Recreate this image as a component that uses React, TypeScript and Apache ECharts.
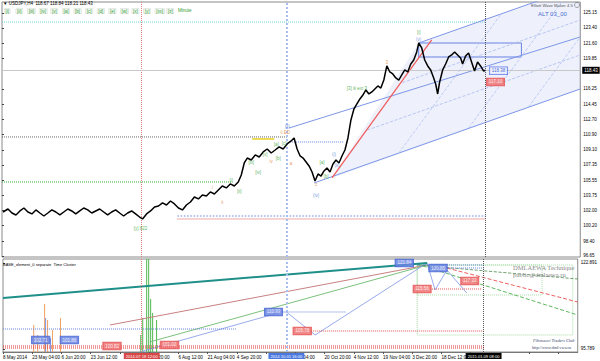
import React, { useEffect, useRef } from "react";
import * as echarts from "echarts";

const FONT = "'Liberation Sans', Arial, sans-serif";

// ---------- main panel: USDJPY H4 price path (bar position, price) ----------
const priceBars = [
  1, 6, 10, 14, 18, 22, 26, 30, 34, 38,
  42, 46, 50, 54, 58, 62, 66, 70, 74, 78,
  82, 86, 90, 94, 98, 102, 106, 110, 114, 118,
  122, 126, 130, 134, 138, 141, 145, 149, 153, 157,
  161, 165, 169, 173, 177, 181, 185, 189, 193, 197,
  201, 205, 209, 213, 217, 221, 225, 229, 233, 237,
  240, 243, 246, 250, 254, 258, 262, 266, 270, 274,
  278, 282, 286, 290, 293, 296, 299, 302, 305, 308,
  311, 314, 317, 320, 323, 326, 329, 332, 335, 338,
  341, 344, 347, 350, 353, 356, 359, 362, 365, 368,
  371, 374, 377, 380, 383, 386, 389, 392, 395, 398,
  401, 404, 407, 410, 413, 416, 418, 421, 424, 427,
  430, 433, 435, 437, 439, 442, 445, 448, 451, 454,
  457, 460, 462, 465, 468, 471, 474, 477, 480, 483,
  485,
];
const priceValues = [
  101.81, 102.16, 101.69, 101.46, 101.93, 102.28, 101.81, 101.58, 102.05, 101.69,
  101.34, 101.69, 102.05, 101.81, 101.46, 101.81, 102.16, 101.93, 101.58, 101.93,
  102.28, 102.05, 101.69, 101.93, 102.16, 101.81, 101.46, 101.81, 102.05, 101.69,
  101.34, 101.69, 101.93, 101.58, 101.22, 100.99, 101.58, 101.93, 102.40, 102.51,
  102.87, 102.63, 103.10, 102.75, 102.28, 102.05, 102.63, 102.98, 103.57, 103.34,
  103.80, 103.69, 104.16, 103.92, 104.39, 104.86, 104.63, 105.10, 104.86, 105.33,
  106.15, 107.56, 108.14, 107.91, 108.50, 108.26, 108.85, 109.20, 108.73, 109.08,
  109.44, 109.20, 109.79, 110.14, 110.49, 109.20, 108.38, 108.14, 107.68, 107.21,
  106.50, 105.45, 106.27, 106.03, 106.62, 106.97, 106.50, 107.44, 107.91, 107.56,
  108.38, 109.08, 110.49, 112.60, 113.89, 114.48, 115.07, 115.53, 116.12, 115.65,
  115.89, 116.24, 116.59, 116.35, 117.29, 118.94, 118.23, 118.00, 117.53, 117.29,
  117.88, 118.47, 118.23, 119.17, 119.64, 120.58, 121.63, 121.05, 119.64, 118.94,
  118.47, 117.53, 116.82, 115.65, 117.06, 118.47, 119.17, 119.99, 120.23, 120.58,
  120.23, 119.87, 119.17, 120.11, 120.46, 119.40, 118.35, 119.40, 118.94, 118.35,
  118.43,
];
const lastPrice = 118.43;

const priceTicks = [96.65, 98.4, 100.2, 102.0, 103.75, 105.55, 107.35, 109.1, 110.9, 112.7, 114.45, 116.25, 119.85, 121.6, 123.4, 125.15];
const subTicks = [95.789, 122.891];

const timeStep = 29.5;
const timeLabels = [
  "8 May 2014", "23 May 04:00", "6 Jun 20:00", "23 Jun 12:00", "", "20:00",
  "6 Aug 12:00", "21 Aug 04:00", "4 Sep 20:00", "", "04:00", "20 Oct 20:00",
  "4 Nov 12:00", "19 Nov 04:00", "3 Dec 20:00", "18 Dec 12:00",
];

const markerBars = [140, 286, 485];
const markerDates = ["2014.07.18 12:00", "2014.10.01 16:00", "2015.01.09 08:00"];

// channel & trend lines (bar, price)
const channelLower = [[313, 105.21], [580, 116.24]];
const channelUpper = [[418, 121.63], [580, 128.32]];
const channelInner1 = [[366.5, 111.42], [580, 120.23]];
const channelInner2 = [[401.6, 116.98], [580, 124.33]];
const midTrend = [[288, 111.66], [580, 122.34]];
const redTrend = [[331, 105.8], [431, 121.99]];
const crossLines = [
  [[398, 108.73], [501, 125.08]],
  [[468, 111.66], [571, 127.97]],
  [[528, 114.13], [580, 122.34]],
];
const boxZone = [[418, 121.63], [521, 119.99]];

// horizontal levels in main panel
const levelPrices = [124.09, 110.61, 110.02, 105.33, 101.34, 100.99, 110.37];
const levelStart = [0, 0, 289, 0, 176, 176, 251];
const levelEnd = [485, 286, 343, 231, 485, 485, 273];

// wave labels
const greenWaveText = ["[y] 822", "[i]", "[ii]", "[iii]", "[iv]", "[v]", "[a]", "[b]", "[c]", "[a]", "[b]", "[i]", "[3] iii ext 3"];
const greenWaveBars = [139, 230, 238, 250, 257, 264, 275, 277, 283, 321, 325, 418, 356];
const greenWavePrices = [99.93, 105.45, 104.27, 107.56, 106.5, 108.61, 109.67, 108.03, 109.9, 107.56, 105.92, 122.81, 116.35];
const blueWaveText = ["(ii)", "(iv)", "(i)", "(ii)", "(v)"];
const blueWaveBars = [286, 315, 333, 336, 418];
const blueWavePrices = [111.78, 103.8, 108.5, 107.32, 122.1];
const orangeWaveText = ["i", "ii", "iv", "ii ED", "a", "c", "3"];
const orangeWaveBars = [211, 221, 270, 284, 290, 315, 386];
const orangeWavePrices = [104.63, 102.98, 107.68, 111.08, 107.44, 104.98, 119.4];

const priceBoxText = ["118.38", "117.10"];
const priceBoxBars = [498, 495];
const priceBoxPrices = [118.38, 117.06];

// ---------- sub panel: Time Cluster ----------
const tealLine = [[0, 111.86], [428, 122.89]];
const redFan = [[108, 103.35], [428, 122.26]];
const greenFan = [[148, 97.99], [428, 122.26]];
const blueZigzag = [[138, 94.84], [281, 107.45], [286, 107.45], [315, 100.2], [428, 122.89], [436, 114.38], [448, 120.68], [468, 113.43]];
const greenProj = [[418, 122.57], [580, 106.5]];
const redProj = [[448, 121.31], [580, 110.6]];
const darkProj = [[418, 122.26], [580, 117.85]];
const subRects = [[[418, 122.26], [544, 112.8]], [[418, 122.26], [575, 100.2]]];

const subLevelValues = [107.45, 101.46, 102.09, 121.31, 122.26, 114.7, 96.73, 96.1];
const subLevelStart = [286, 311, 0, 448, 418, 431, 0, 0];
const subLevelEnd = [346, 485, 235, 485, 485, 483, 485, 485];

const subBlueBoxText = ["110.93", "121.84", "120.85", "102.71", "101.86"];
const subBlueBoxBars = [273, 405, 439, 38, 67];
const subBlueBoxValues = [107.45, 122.89, 121.31, 98.62, 98.62];
const subRedBoxText = ["105.78", "115.56", "117.22", "100.82", "101.02"];
const subRedBoxBars = [302, 423, 471, 110, 168];
const subRedBoxValues = [101.46, 114.7, 117.22, 96.73, 97.05];

const orangeSpikeBars = [31, 35, 42, 45, 50, 58];
const orangeSpikeValues = [103.35, 100.2, 109.97, 104.93, 101.77, 105.56];
const blueSpikeBars = [43, 48];
const blueSpikeValues = [105.56, 99.25];
const greenSpikeBars = [139, 141, 145, 147, 149, 151, 155];
const greenSpikeValues = [100.2, 105.56, 124.15, 124.15, 111.54, 107.13, 104.93];

const waveButtons = ["[i]", "[ii]", "[iii]", "[iv]", "[v]", "[a]", "[b]", "[c]", "[d]", "[e]", "[w]", "[x]", "[y]", "[xx]", "[z]"];

function seg(data: any, color: string, type: any, width: number, grid: number, z = 3) {
  return {
    type: "line", xAxisIndex: grid, yAxisIndex: grid, data, symbol: "none", showSymbol: false,
    silent: true, z, lineStyle: { color, type, width }, clip: true,
  };
}

function labelSeries(bars: number[], vals: number[], texts: string[], grid: number, label: any, z = 6) {
  return {
    type: "scatter", xAxisIndex: grid, yAxisIndex: grid, symbolSize: 0.1, silent: true, z,
    itemStyle: { color: "rgba(0,0,0,0)" },
    data: bars.map((b, i) => ({ value: [b, vals[i]], name: texts[i] })),
    label: { show: true, position: "inside", formatter: "{b}", fontFamily: FONT, fontSize: 4.5, ...label },
  };
}

function buildOption() {
  const series: any[] = [];

  // channel fill: bounded by red trend (left), lower and upper channel lines
  const poly = [redTrend[0], channelLower[1], channelUpper[1], channelUpper[0]];
  series.push({
    type: "custom", xAxisIndex: 0, yAxisIndex: 0, clip: true, silent: true, z: 1,
    data: [[300, 110]],
    renderItem: (_p: any, api: any) => ({
      type: "polygon",
      shape: { points: poly.map((p) => api.coord(p)) },
      style: { fill: "rgba(120,150,230,0.13)" },
    }),
  });

  series.push(seg(channelLower, "#7d96e6", "solid", 1, 0));
  series.push(seg(channelUpper, "#7d96e6", "solid", 1, 0));
  series.push(seg(channelInner1, "#a9bbef", "dashed", 0.8, 0));
  series.push(seg(channelInner2, "#a9bbef", "dashed", 0.8, 0));
  series.push(seg(midTrend, "#7d96e6", "solid", 1, 0));
  crossLines.forEach((l) => series.push(seg(l, "#b3c3f0", "dashed", 0.8, 0)));
  series.push(seg(redTrend, "#ee5a5a", "solid", 1.2, 0, 4));

  const levelColors = ["#6fcfcf", "#666666", "#6a86e0", "#3aa83a", "#9fb3ef", "#d85050", "#e8d020"];
  const levelTypes = ["dotted", "dotted", "dotted", "dotted", "dotted", "dotted", "solid"];
  const levelWidths = [1, 1, 1, 1, 1.6, 1, 1.5];
  levelPrices.forEach((p, i) =>
    series.push(seg([[levelStart[i], p], [levelEnd[i], p]], levelColors[i], levelTypes[i], levelWidths[i], 0))
  );

  // price line
  series.push({
    type: "line", xAxisIndex: 0, yAxisIndex: 0, symbol: "none", showSymbol: false, z: 5, silent: true,
    data: priceBars.map((b, i) => [b, priceValues[i]]),
    lineStyle: { color: "#000", width: 1.5 },
    markLine: {
      silent: true, symbol: ["none", "none"], animation: false,
      label: { show: false },
      data: [
        { xAxis: markerBars[0], lineStyle: { color: "#e58080", type: "dotted", width: 1 } },
        { xAxis: markerBars[1], lineStyle: { color: "#a8bdf0", type: "dotted", width: 2 } },
        { xAxis: markerBars[2], lineStyle: { color: "#555", type: "dotted", width: 1 } },
        {
          yAxis: lastPrice, lineStyle: { color: "#c8c8c8", type: "solid", width: 1 },
          label: {
            show: true, position: "end", formatter: lastPrice.toFixed(2), backgroundColor: "#000",
            color: "#fff", fontSize: 4.5, fontFamily: FONT, padding: [1, 2], distance: 2,
          },
        },
      ],
    },
    markArea: {
      silent: true,
      itemStyle: { color: "rgba(255,255,255,0)", borderColor: "#6680e0", borderWidth: 1 },
      data: [[{ coord: boxZone[0] }, { coord: boxZone[1] }]],
    },
  });

  series.push(labelSeries(greenWaveBars, greenWavePrices, greenWaveText, 0, { color: "#2f9e2f" }));
  series.push(labelSeries(blueWaveBars, blueWavePrices, blueWaveText, 0, { color: "#4a6fd0" }));
  series.push(labelSeries(orangeWaveBars, orangeWavePrices, orangeWaveText, 0, { color: "#e07a30" }));
  series.push(labelSeries([priceBoxBars[0]], [priceBoxPrices[0]], [priceBoxText[0]], 0, {
    color: "#2545c8", backgroundColor: "#eef2ff", borderColor: "#4a66e0", borderWidth: 0.8, padding: [1, 2],
  }, 7));
  series.push(labelSeries([priceBoxBars[1]], [priceBoxPrices[1]], [priceBoxText[1]], 0, {
    color: "#fff", backgroundColor: "#f07070", borderColor: "#e04848", borderWidth: 0.8, padding: [1, 2],
  }, 7));

  // ---- sub panel ----
  series.push({
    ...seg(tealLine, "#1f8f8a", "solid", 2, 1, 4),
    markLine: {
      silent: true, symbol: ["none", "none"], animation: false,
      data: markerBars.map((b, i) => ({
        xAxis: b,
        lineStyle: {
          color: ["#e58080", "#a8bdf0", "#555"][i], type: "dotted", width: i === 1 ? 2 : 1,
        },
        label: {
          show: true, position: "start", formatter: markerDates[i], distance: 1,
          backgroundColor: ["#d94848", "#4a78e0", "#000"][i], color: "#fff",
          fontSize: 4.1, fontFamily: FONT, padding: [1, 2],
        },
      })),
    },
  });
  series.push(seg(redFan, "#c98080", "solid", 1, 1));
  series.push(seg(greenFan, "#7cc07c", "solid", 1, 1));
  series.push(seg(blueZigzag, "#7d96e6", "solid", 0.8, 1));
  series.push(seg(greenProj, "#5cb85c", "dashed", 1, 1));
  series.push(seg(redProj, "#f06060", "dashed", 1, 1));
  series.push(seg(darkProj, "#4a8a4a", "dashed", 0.8, 1));

  const subLevelColors = ["#6a86e0", "#e05050", "#6a86e0", "#6a86e0", "#6a86e0", "#e05050", "#e03030", "#e03030"];
  subLevelValues.forEach((v, i) =>
    series.push(seg([[subLevelStart[i], v], [subLevelEnd[i], v]], subLevelColors[i], "dotted", 1, 1))
  );

  series.push({
    type: "line", xAxisIndex: 1, yAxisIndex: 1, data: [], silent: true,
    markArea: {
      silent: true,
      itemStyle: { color: "rgba(0,0,0,0)", borderColor: "#a6dca6", borderWidth: 1, borderType: "dotted" },
      data: subRects.map((r) => [{ coord: r[0] }, { coord: r[1] }]),
    },
  });

  const spike = (bars: number[], vals: number[], color: string) => ({
    type: "bar", xAxisIndex: 1, yAxisIndex: 1, barWidth: 1, barGap: "-100%", silent: true, z: 2,
    itemStyle: { color }, data: bars.map((b, i) => [b, vals[i]]),
  });
  series.push(spike(orangeSpikeBars, orangeSpikeValues, "#f0a060"));
  series.push(spike(blueSpikeBars, blueSpikeValues, "#7f96e6"));
  series.push(spike(greenSpikeBars, greenSpikeValues, "#4fb84f"));

  series.push(labelSeries(subBlueBoxBars, subBlueBoxValues, subBlueBoxText, 1, {
    color: "#fff", backgroundColor: "#6a84e4", borderColor: "#3d5cd0", borderWidth: 0.8, padding: [1, 2],
  }, 7));
  series.push(labelSeries(subRedBoxBars, subRedBoxValues, subRedBoxText, 1, {
    color: "#fff", backgroundColor: "#f07070", borderColor: "#e04848", borderWidth: 0.8, padding: [1, 2],
  }, 7));

  const graphic: any[] = [
    { type: "text", left: 3, top: 1, z: 10, style: { text: "\u25BC USDJPY,H4  118.67 118.84 118.21 118.43", fontSize: 4.5, fill: "#000", fontFamily: FONT } },
    ...waveButtons.map((t, i) => ({
      type: "text", left: 4 + i * 11.6, top: 8, z: 10,
      style: { text: t, fontSize: 4.5, fill: "#2f9e2f", fontFamily: FONT, backgroundColor: "#f4f8f4", borderColor: "#d8dcd8", borderWidth: 0.5, padding: [0, 1] },
    })),
    { type: "text", left: 178, top: 8, z: 10, style: { text: "Minute", fontSize: 4.5, fill: "#2f9e2f", fontFamily: FONT } },
    { type: "text", left: 531, top: 3, z: 10, style: { text: "Elliott Wave Maker 4.5", fontSize: 4.2, fill: "#555", fontFamily: FONT } },
    { type: "circle", z: 10, shape: { cx: 577, cy: 5, r: 2.5 }, style: { fill: "none", stroke: "#666", lineWidth: 0.6 } },
    { type: "text", left: 538, top: 11, z: 10, style: { text: "ALT 03_00", fontSize: 6, fill: "#4a6fd0", fontFamily: FONT } },
    { type: "text", left: 3, top: 262, z: 10, style: { text: "BASE_element_0 separate  Time Cluster", fontSize: 4, fill: "#000", fontFamily: FONT } },
    { type: "text", left: 513, top: 264, z: 10, style: { text: "DMLAEWA Technique", fontSize: 6.5, fill: "#8a8a8a", fontFamily: "'Liberation Serif', serif" } },
    { type: "text", left: 513, top: 271, z: 10, style: { text: "public@dmlaewa.ru", fontSize: 6.5, fill: "#8a8a8a", fontFamily: "'Liberation Serif', serif" } },
    { type: "text", left: 533, top: 338, z: 10, style: { text: "Fibonacci Traders Club", fontSize: 4.3, fontStyle: "italic", fill: "#334466", fontFamily: "'Liberation Serif', serif" } },
    { type: "text", left: 532, top: 345, z: 10, style: { text: "http://www.dml-ewa.ru", fontSize: 4.2, fill: "#334466", fontFamily: "'Liberation Serif', serif" } },
  ];

  return {
    animation: false,
    backgroundColor: "#fff",
    textStyle: { fontFamily: FONT },
    grid: [
      { left: 2, top: 2, width: 580, height: 255, show: true, borderColor: "#8a8a8a", borderWidth: 1, backgroundColor: "#fff" },
      { left: 2, top: 259, width: 580, height: 93, show: true, borderColor: "#8a8a8a", borderWidth: 1, backgroundColor: "#fff" },
    ],
    xAxis: [
      {
        gridIndex: 0, type: "value", min: 0, max: 580, interval: timeStep,
        axisLine: { show: false }, axisTick: { show: false }, axisLabel: { show: false }, splitLine: { show: false },
      },
      {
        gridIndex: 1, type: "value", min: 0, max: 580, interval: timeStep,
        axisLine: { show: true, lineStyle: { color: "#777" } },
        axisTick: { show: true, length: 2, lineStyle: { color: "#555" } },
        splitLine: { show: false },
        axisLabel: {
          show: true, fontSize: 4.6, color: "#000", align: "left", margin: 3, fontFamily: FONT,
          showMaxLabel: false,
          formatter: (v: number) => {
            const i = Math.round(v / timeStep);
            const t = timeLabels[i] || "";
            if (!t) return "";
            if (i === 5) return `{o|${t}}`;
            if (i === 10) return `{p|${t}}`;
            return t;
          },
          rich: {
            o: { padding: [0, 0, 0, 9], fontSize: 4.6, color: "#000", fontFamily: FONT },
            p: { padding: [0, 0, 0, 8], fontSize: 4.6, color: "#000", fontFamily: FONT },
          },
        },
      },
    ],
    yAxis: [
      {
        gridIndex: 0, type: "value", position: "right", min: 96.53, max: 126.44,
        axisLine: { show: false }, splitLine: { show: false },
        axisTick: { show: true, length: 2, customValues: priceTicks, lineStyle: { color: "#444" } },
        axisLabel: { customValues: priceTicks, formatter: (v: number) => v.toFixed(2), fontSize: 4.5, color: "#000", margin: 3, fontFamily: FONT },
      },
      {
        gridIndex: 1, type: "value", position: "right", min: 94.84, max: 124.15,
        axisLine: { show: false }, splitLine: { show: false },
        axisTick: { show: true, length: 2, customValues: subTicks, lineStyle: { color: "#444" } },
        axisLabel: { customValues: subTicks, formatter: (v: number) => v.toFixed(3), fontSize: 4.5, color: "#000", margin: 3, fontFamily: FONT },
      },
    ],
    series,
    graphic,
  };
}

export default function App() {
  const ref = useRef<HTMLDivElement>(null);
  useEffect(() => {
    document.body.style.margin = "0";
    const chart = echarts.init(ref.current!, null, { renderer: "svg" });
    chart.setOption(buildOption() as any);
    return () => chart.dispose();
  }, []);
  return (
    <div
      ref={ref}
      style={{ position: "absolute", left: 0, top: 0, width: 600, height: 361, background: "#fff" }}
    />
  );
}
